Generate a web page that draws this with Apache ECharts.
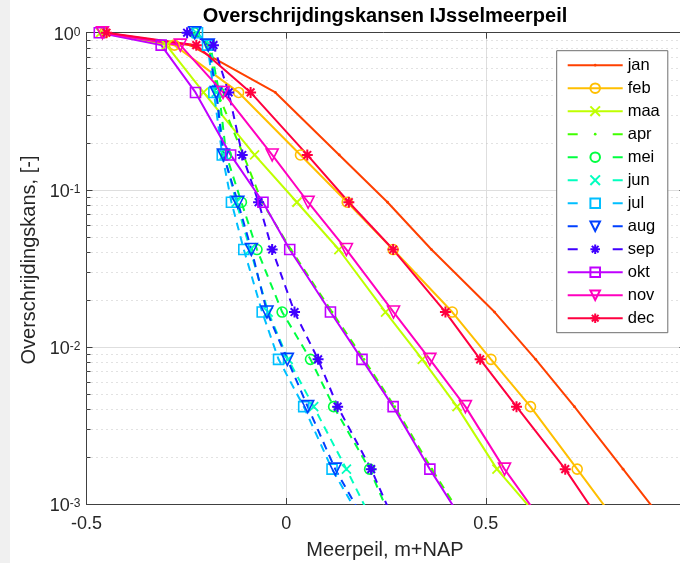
<!DOCTYPE html>
<html><head><meta charset="utf-8">
<script src="https://cdn.jsdelivr.net/npm/echarts@6/dist/echarts.min.js"></script>
<style>html,body{margin:0;padding:0;background:#fff}#c{width:680px;height:563px}</style>
</head><body><div id="c"></div>
<script>
// ---- data ----
const months = ['jan','feb','maa','apr','mei','jun','jul','aug','sep','okt','nov','dec'];
// exceedance probabilities of the plotted levels (per month)
const probabilities = [1, 0.8333, 0.4167, 0.1667, 0.08333, 0.04167, 0.01667, 0.008333, 0.004167, 0.001667, 0.0008333];
// lake levels (m+NAP) at those probabilities
const jan = [-0.455, -0.240, -0.027, 0.133, 0.254, 0.364, 0.522, 0.625, 0.722, 0.844, 0.936];
const feb = [-0.455, -0.280, -0.119, 0.036, 0.153, 0.268, 0.416, 0.513, 0.612, 0.729, 0.817];
const maa = [-0.465, -0.300, -0.207, -0.079, 0.027, 0.132, 0.249, 0.341, 0.428, 0.528, 0.630];
const apr = [-0.235, -0.195, -0.172, -0.107, -0.060, 0.012, 0.115, 0.195, 0.272, 0.365, 0.440];
const mei = [-0.230, -0.190, -0.168, -0.150, -0.112, -0.073, -0.010, 0.061, 0.119, 0.209, 0.260];
const jun = [-0.225, -0.190, -0.175, -0.155, -0.125, -0.090, -0.045, 0.005, 0.069, 0.151, 0.210];
const jul = [-0.222, -0.197, -0.181, -0.160, -0.137, -0.106, -0.060, -0.019, 0.044, 0.115, 0.183];
const aug = [-0.229, -0.195, -0.175, -0.157, -0.121, -0.087, -0.048, 0.003, 0.054, 0.123, 0.190];
const sep = [-0.248, -0.182, -0.144, -0.110, -0.069, -0.035, 0.021, 0.080, 0.129, 0.213, 0.265];
const okt = [-0.468, -0.313, -0.227, -0.139, -0.058, 0.009, 0.111, 0.190, 0.268, 0.360, 0.435];
const nov = [-0.460, -0.265, -0.158, -0.035, 0.055, 0.151, 0.269, 0.360, 0.449, 0.547, 0.632];
const dec = [-0.450, -0.225, -0.089, 0.053, 0.157, 0.268, 0.399, 0.486, 0.577, 0.699, 0.779];
const monthValues = [jan, feb, maa, apr, mei, jun, jul, aug, sep, okt, nov, dec];

const xTickValues = [-0.5, 0, 0.5, 1];
const xTickLabels = ['-0.5', '0', '0.5', '1'];
const yTickValues = [1, 0.1, 0.01, 0.001];
const yTickExponents = ['0', '-1', '-2', '-3'];
const yMinorTickValues = [0.002,0.003,0.004,0.005,0.006,0.007,0.008,0.009,
                          0.02,0.03,0.04,0.05,0.06,0.07,0.08,0.09,
                          0.2,0.3,0.4,0.5,0.6,0.7,0.8,0.9];

// ---- styles ----
const colors = ['#ff4000','#ffbf00','#bfff00','#40ff00','#00ff40','#00ffbf','#00bfff','#0040ff','#4000ff','#bf00ff','#ff00bf','#ff0040'];
const dashed = [false,false,false,true,true,true,true,true,true,false,false,false];
const markerKinds = ['dot','circle','x','dot','circle','x','square','tri','star','square','tri','star'];
const markerDefs = {
  dot:    {symbol: 'path://M0,0M10,10M5,3.6A1.4,1.4,0,1,1,5,6.4A1.4,1.4,0,1,1,5,3.6Z', size: 10, filled: true, rotate: 0},
  circle: {symbol: 'circle', size: 10, filled: false, rotate: 0, bw: 1.6},
  x:      {symbol: 'path://M0,0L10,10M0,10L10,0', size: 9, filled: false, rotate: 0, bw: 1.8},
  square: {symbol: 'rect', size: 10, filled: false, rotate: 0, bw: 1.6},
  tri:    {symbol: 'triangle', size: 12, filled: false, rotate: 180, bw: 1.6},
  star:   {symbol: 'path://M5,0L5,10M0,5L10,5M1.5,1.5L8.5,8.5M1.5,8.5L8.5,1.5', size: 11, filled: false, rotate: 0, bw: 2}
};
const FONT = 'Liberation Sans, Arial, sans-serif';
const AXIS_COLOR = '#404040';
const xMin = -0.5, xMax = 1;

const lineSeries = months.map((m, i) => {
  const md = markerDefs[markerKinds[i]];
  return {
    name: m, type: 'line',
    data: monthValues[i].map((v, k) => [v, probabilities[k]]),
    symbol: md.symbol, symbolSize: md.size, symbolRotate: md.rotate,
    showSymbol: true, clip: true, z: 3,
    lineStyle: {color: colors[i], width: 2, type: dashed[i] ? [8, 6] : 'solid'},
    itemStyle: md.filled ? {color: colors[i], borderWidth: 0}
                         : {color: 'rgba(255,255,255,0)', borderColor: colors[i], borderWidth: md.bw},
    emphasis: {disabled: true}
  };
});

const minorSeries = {
  type: 'custom', silent: true, z: 1, clip: false,
  data: yMinorTickValues.map(v => [xMin, v]),
  renderItem: (params, api) => {
    const v = api.value(1);
    const a = api.coord([xMin, v]);
    const b = api.coord([xMax, v]);
    const y = Math.round(a[1]) + 0.5;
    return {type: 'group', children: [
      {type: 'line', shape: {x1: a[0], y1: y, x2: b[0], y2: y}, style: {stroke: '#c4c4c4', lineWidth: 1, lineDash: [1, 4]}},
      {type: 'line', shape: {x1: a[0], y1: y, x2: a[0] + 4, y2: y}, style: {stroke: AXIS_COLOR, lineWidth: 1}},
      {type: 'line', shape: {x1: b[0] - 4, y1: y, x2: b[0], y2: y}, style: {stroke: AXIS_COLOR, lineWidth: 1}}
    ]};
  }
};

const legendData = months.map((m, i) => dashed[i] ? {name: m, lineStyle: {type: [10, 35]}} : {name: m});

const chart = echarts.init(document.getElementById('c'), null, {renderer: 'canvas'});
chart.setOption({
  animation: false,
  backgroundColor: '#ffffff',
  grid: {left: 86.5, top: 32.7, right: -5.4, bottom: 59, containLabel: false, outerBoundsMode: 'none'},
  xAxis: [
    {type: 'value', min: xMin, max: xMax, interval: 0.5, position: 'bottom',
     axisLine: {show: true, onZero: false, lineStyle: {color: AXIS_COLOR, width: 1}},
     axisTick: {show: true, inside: true, length: 6, lineStyle: {color: AXIS_COLOR}},
     axisLabel: {show: true, margin: 11, fontSize: 18, fontFamily: FONT, color: '#262626', showMaxLabel: false,
       formatter: v => { const i = xTickValues.findIndex(t => Math.abs(t - v) < 1e-9); return i < 0 ? '' : xTickLabels[i]; }},
     splitLine: {show: true, lineStyle: {color: '#dedede', width: 1}}},
    {type: 'value', min: xMin, max: xMax, interval: 0.5, position: 'top',
     axisLine: {show: true, onZero: false, lineStyle: {color: AXIS_COLOR, width: 1}},
     axisTick: {show: true, inside: true, length: 6, lineStyle: {color: AXIS_COLOR}},
     axisLabel: {show: false}, splitLine: {show: false}}
  ],
  yAxis: [
    {type: 'log', logBase: 10, min: 0.001, max: 1, position: 'left',
     axisLine: {show: true, onZero: false, lineStyle: {color: AXIS_COLOR, width: 1}},
     axisTick: {show: true, inside: true, length: 6, lineStyle: {color: AXIS_COLOR}},
     axisLabel: {show: true, margin: 6, fontFamily: FONT, color: '#262626', padding: [5, 0, 0, 0],
       formatter: v => { const i = yTickValues.findIndex(t => Math.abs(Math.log10(t) - Math.log10(v)) < 1e-6); return i < 0 ? '' : '{b|10}{s|' + yTickExponents[i] + '}'; },
       rich: {
         b: {fontSize: 18, fontFamily: FONT, color: '#262626', lineHeight: 18, padding: [7, 0, 0, 0], verticalAlign: 'bottom'},
         s: {fontSize: 12, fontFamily: FONT, color: '#262626', lineHeight: 12, verticalAlign: 'top'}
       }},
     splitLine: {show: true, lineStyle: {color: '#dedede', width: 1}}},
    {type: 'log', logBase: 10, min: 0.001, max: 1, position: 'right',
     axisLine: {show: true, onZero: false, lineStyle: {color: AXIS_COLOR, width: 1}},
     axisTick: {show: true, inside: true, length: 6, lineStyle: {color: AXIS_COLOR}},
     axisLabel: {show: false}, splitLine: {show: false}}
  ],
  legend: {
    orient: 'vertical', left: 556.7, top: 50.7, padding: [6, 8, 6, 10],
    itemWidth: 55, itemHeight: 12, itemGap: 6,
    backgroundColor: '#ffffff', borderColor: '#6e6e6e', borderWidth: 1, borderRadius: 0,
    selectedMode: false,
    textStyle: {fontSize: 16.5, lineHeight: 16, fontFamily: FONT, color: '#000'},
    data: legendData
  },
  graphic: [
    {type: 'rect', left: 0, top: 0, shape: {width: 10, height: 563}, style: {fill: '#f0f0f0'}, silent: true},
    {type: 'text', x: 385, y: 16, style: {text: 'Overschrijdingskansen IJsselmeerpeil', font: 'bold 20px ' + FONT, fill: '#000', textAlign: 'center', textVerticalAlign: 'middle'}},
    {type: 'text', x: 385, y: 550, style: {text: 'Meerpeil, m+NAP', font: '20px ' + FONT, fill: '#262626', textAlign: 'center', textVerticalAlign: 'middle'}},
    {type: 'text', x: 29, y: 260, rotation: Math.PI / 2, style: {text: 'Overschrijdingskans, [-]', font: '20px ' + FONT, fill: '#262626', textAlign: 'center', textVerticalAlign: 'middle'}}
  ],
  series: [minorSeries].concat(lineSeries)
});
</script>
</body></html>
